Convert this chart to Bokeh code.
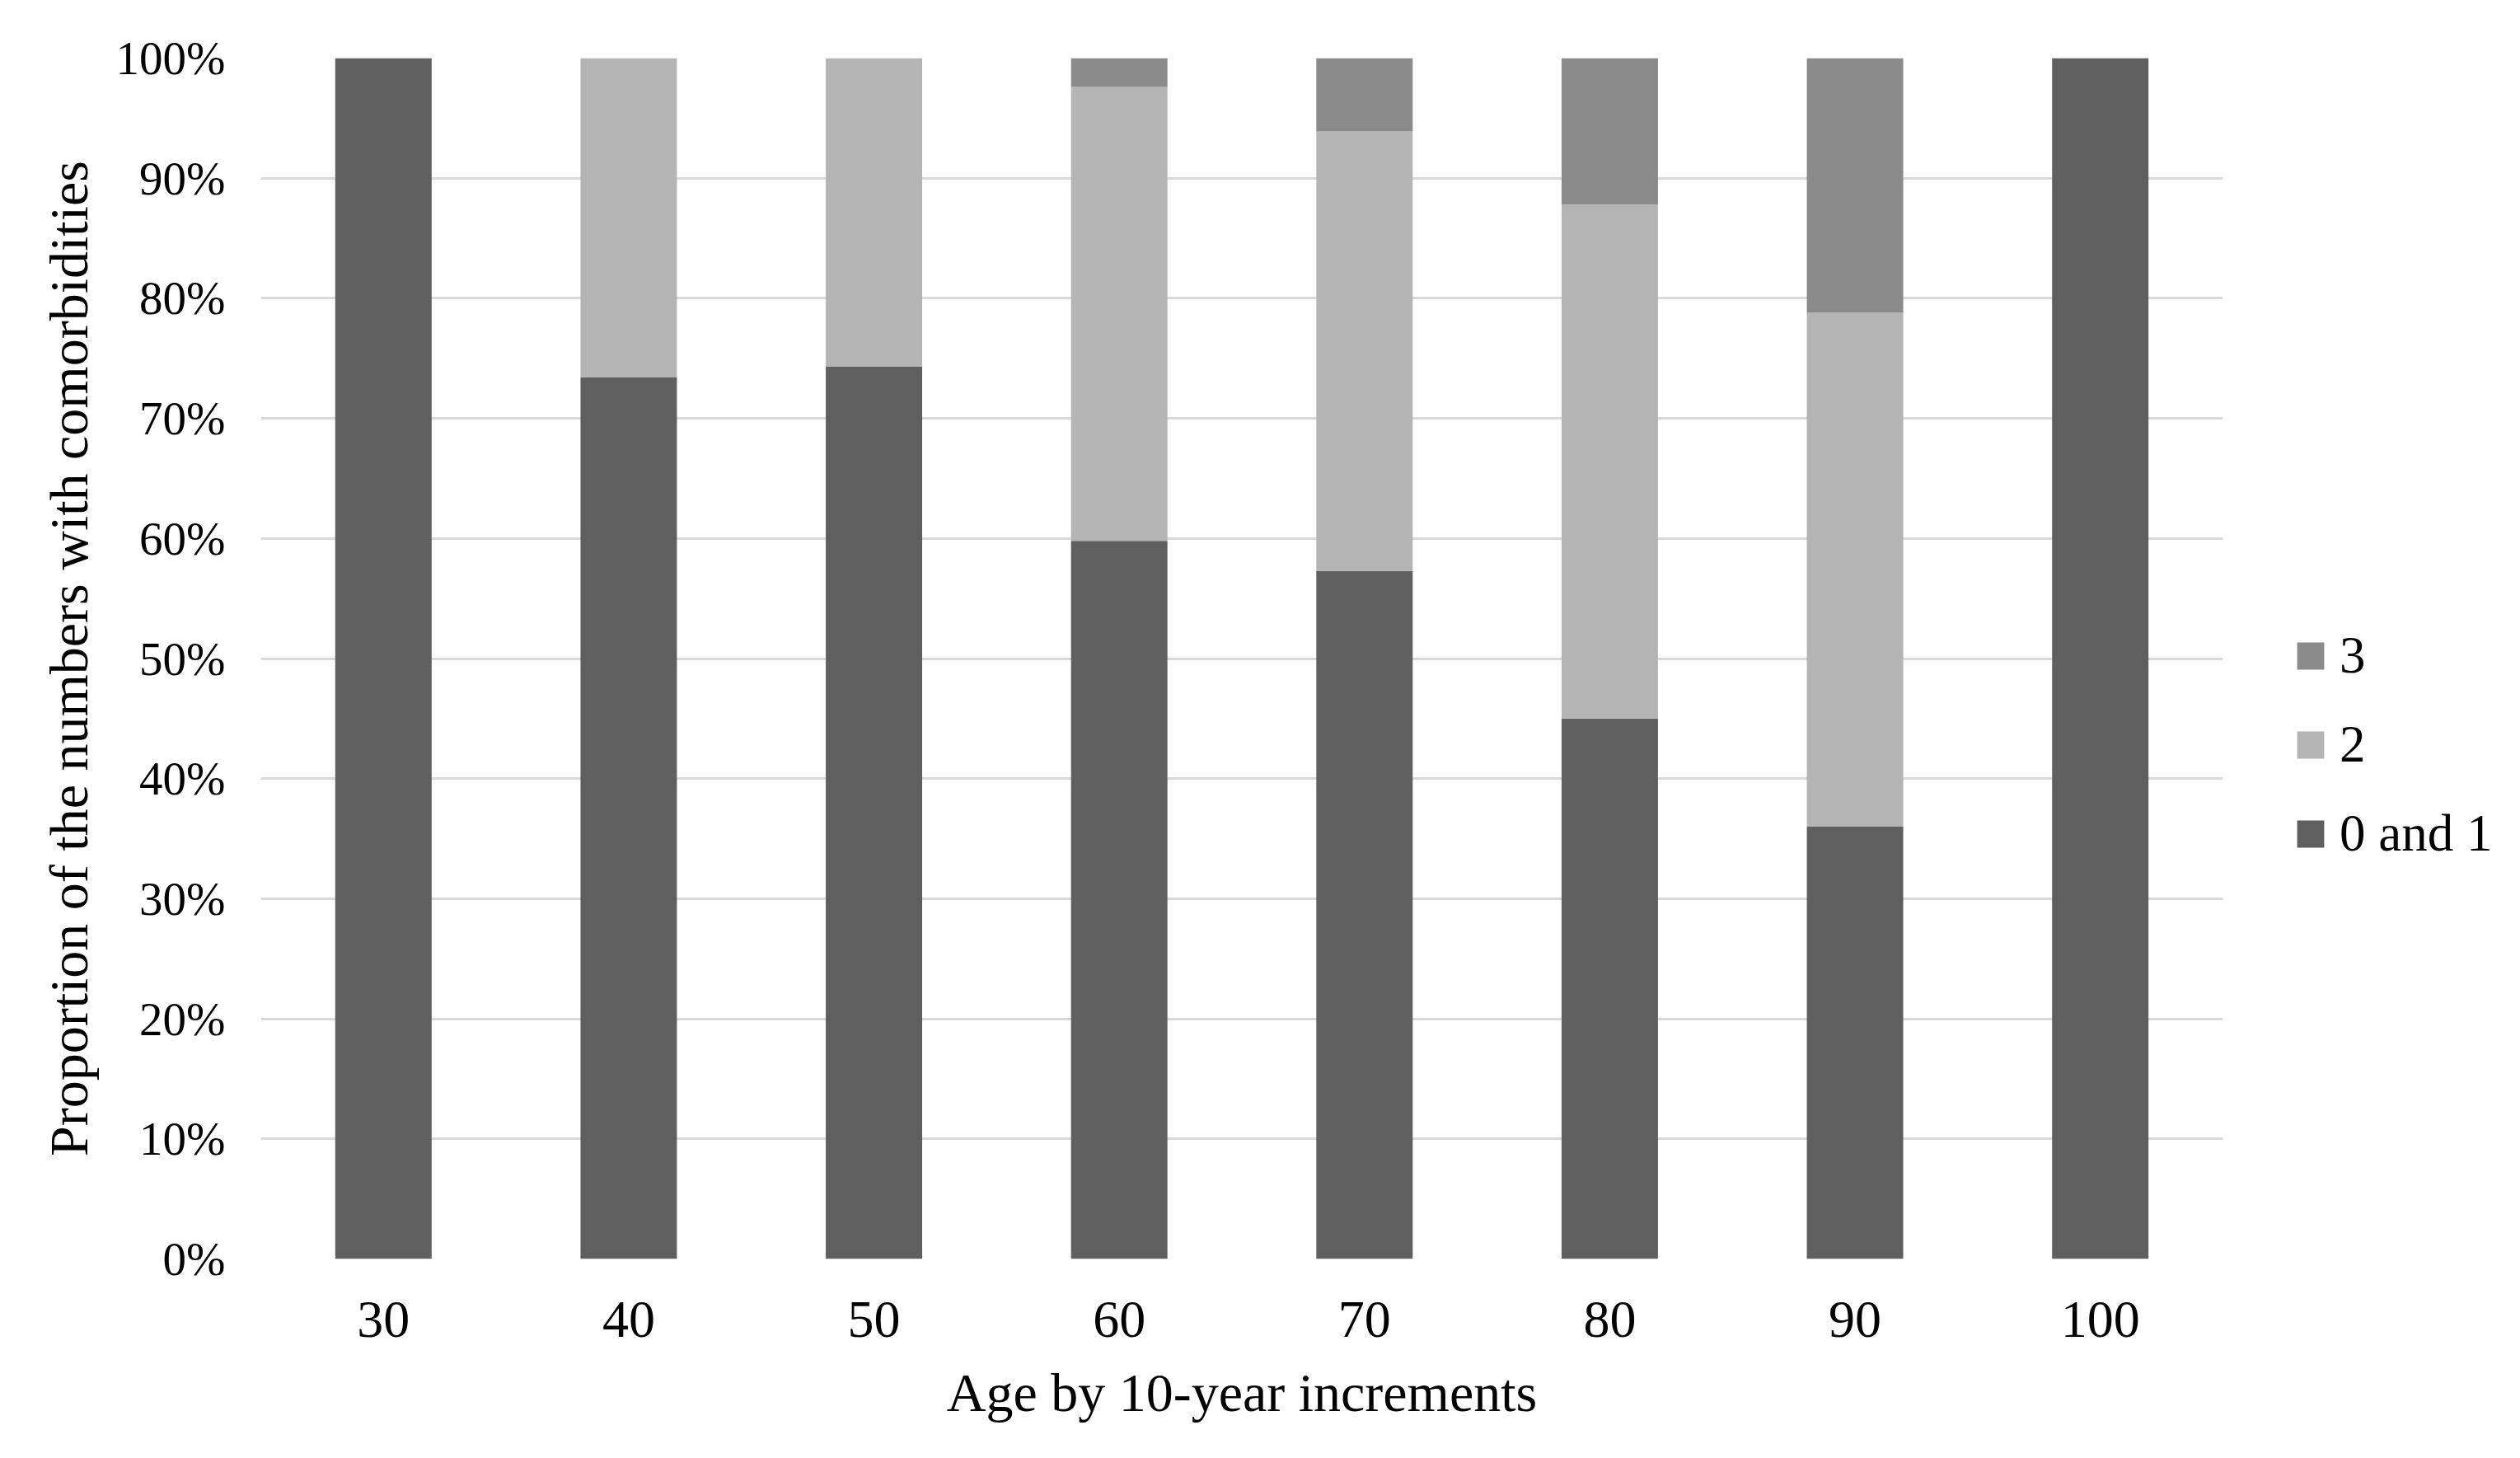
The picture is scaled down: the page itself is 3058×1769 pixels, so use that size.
from bokeh.plotting import figure
from bokeh.layouts import row
from bokeh.models import Range1d, FactorRange, NumeralTickFormatter, FixedTicker, Legend, LegendItem, ColumnDataSource
from bokeh.embed import file_html
from bokeh.resources import INLINE

ages = ["30", "40", "50", "60", "70", "80", "90", "100"]
zero_and_one = [1.000, 0.734, 0.743, 0.598, 0.573, 0.450, 0.360, 1.000]
two = [0.000, 0.266, 0.257, 0.378, 0.366, 0.428, 0.428, 0.000]
three = [0.000, 0.000, 0.000, 0.024, 0.061, 0.122, 0.212, 0.000]
y_ticks = [0, 0.1, 0.2, 0.3, 0.4, 0.5, 0.6, 0.7, 0.8, 0.9, 1.0]

series = ["0 and 1", "2", "3"]
colors = ["#5f5f5f", "#b4b4b4", "#8a8a8a"]

src = ColumnDataSource(dict(age=ages, **{"0 and 1": zero_and_one, "2": two, "3": three}))

FONT = "Liberation Serif"
H = 1760

p = figure(width=2707, height=H, x_range=FactorRange(*ages), y_range=Range1d(0, 1),
           output_backend="svg", toolbar_location=None,
           min_border_left=316, min_border_right=10, min_border_top=70, min_border_bottom=233)
p.outline_line_color = None

rs = p.vbar_stack(series, x="age", width=0.393, color=colors, source=src, line_color=None)

p.xgrid.grid_line_color = None
p.ygrid.grid_line_color = "#d9d9d9"
p.ygrid.grid_line_width = 3
p.yaxis.ticker = FixedTicker(ticks=y_ticks)
p.yaxis.formatter = NumeralTickFormatter(format="0%")

for ax in (p.xaxis, p.yaxis):
    ax.axis_line_color = None
    ax.major_tick_line_color = None
    ax.minor_tick_line_color = None
    ax.major_tick_out = 0
    ax.major_tick_in = 0
    ax.major_label_text_font = FONT
    ax.major_label_text_color = "black"
    ax.axis_label_text_font = FONT
    ax.axis_label_text_font_style = "normal"
    ax.axis_label_text_color = "black"
    ax.axis_label_text_font_size = "66px"

p.yaxis.major_label_text_font_size = "57px"
p.xaxis.major_label_text_font_size = "64px"
p.yaxis.major_label_standoff = 43
p.xaxis.major_label_standoff = 52
p.yaxis.axis_label = "Proportion of the numbers with comorbidities"
p.xaxis.axis_label = "Age by 10-year increments"
p.yaxis.axis_label_standoff = 18
p.xaxis.axis_label_standoff = 28

# Legend panel: a separate, axis-less figure beside the chart (hidden proxy glyphs)
lg = figure(width=343, height=H, x_range=FactorRange(*ages), y_range=Range1d(0, 1),
            output_backend="svg", toolbar_location=None,
            x_axis_type=None, y_axis_type=None,
            min_border_left=0, min_border_right=0, min_border_top=0, min_border_bottom=0)
lg.outline_line_color = None
lg.xgrid.grid_line_color = None
lg.ygrid.grid_line_color = None
proxies = [lg.vbar(x="age", top=s, width=0.393, color=c, line_color=None, source=src, visible=False)
           for s, c in zip(series, colors)]

items = [LegendItem(label=s, renderers=[r]) for s, r in zip(series, proxies)][::-1]
legend = Legend(items=items, location=(76, 479), margin=0, padding=0,
                border_line_color=None, background_fill_alpha=0,
                glyph_width=41, glyph_height=41, label_standoff=15, spacing=35,
                label_text_font=FONT, label_text_font_size="63px", label_text_color="black")
lg.add_layout(legend, "center")

layout = row(p, lg)
open("out.html", "w").write(file_html(layout, INLINE))
